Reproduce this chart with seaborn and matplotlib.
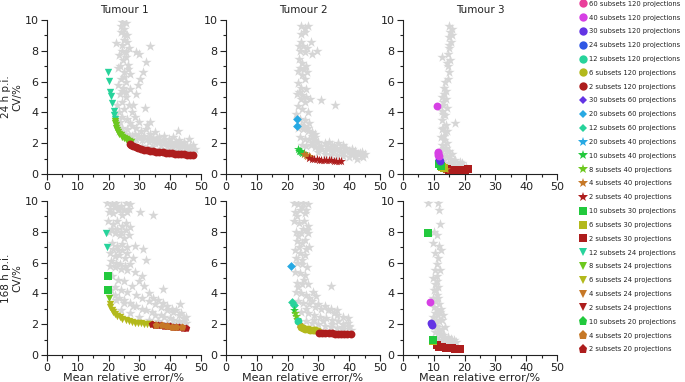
import matplotlib
matplotlib.use('Agg')
import matplotlib.pyplot as plt
import seaborn as sns
from matplotlib.lines import Line2D
from matplotlib.ticker import MultipleLocator

# ---- legend entries (subsets, projections) ----
legend_subsets = [60, 40, 30, 24, 12, 6, 2, 30, 20, 12, 20, 10, 8, 4, 2, 10, 6, 2, 12, 8, 6, 4, 2, 10, 4, 2]
legend_projections = [120, 120, 120, 120, 120, 120, 120, 60, 60, 60, 40, 40, 40, 40, 40,
                      30, 30, 30, 24, 24, 24, 24, 24, 20, 20, 20]

subset_colors = {60: '#ea3f9b', 40: '#d640e4', 30: '#6334e4', 24: '#2f57e4', 20: '#27a9e3',
                 12: '#27d39b', 10: '#22c93d', 8: '#6dc81f', 6: '#b3b91c', 4: '#c67827', 2: '#ad1d1d'}
proj_markers = {120: 'o', 60: 'D', 40: '*', 30: 's', 24: 'v', 20: 'p'}

tumours = ['Tumour 1', 'Tumour 2', 'Tumour 3']
rows = ['24 h p.i.', '168 h p.i.']

# ---- grey background clouds (all reconstructions) ----
t1_24_cloud_x = [24.5, 25.5, 25, 24, 26, 25, 24.2, 22.5, 26.5, 25.5, 23.5, 24.8, 26.2, 23.2, 25, 26.8, 24, 25.8,
                 23, 24.8, 27, 23.6, 25.8, 24.3, 22.8, 26.5, 25, 23.5, 27.5, 24.2, 26, 28.5,
                 28, 28.8, 29.5, 30.3, 31.3, 32.2, 29, 30, 33.5, 31.8, 33.5,
                 23, 24.5, 26, 27.5, 29, 30.5, 32, 33.5, 35, 36.5, 38, 39.5, 41, 42.5, 43, 44.5, 46, 47.5,
                 25, 27, 29, 31, 33, 35, 37, 39, 41, 43, 45, 47, 28, 31, 34, 37, 40, 43, 46, 38, 44, 48,
                 22.5, 23.8, 26.8, 30, 32.5, 34.5, 36, 40, 42, 45.5,
                 23.5, 24.5, 25.5, 26.5, 27.5, 28.5, 29.5, 30.5, 31.5, 32.5, 33.5, 34.5, 35.5, 36.5, 37.5,
                 38.5, 39.5, 40.5, 41.5, 42.5, 43.5, 44.5, 45.5, 46.5, 47.5,
                 24, 25, 26, 24.5, 25.5, 23.8, 26.2, 25, 24.4, 25.6]
t1_24_cloud_y = [9.9, 9.8, 9.4, 9.2, 9.0, 8.7, 8.4, 8.5, 8.2, 7.9, 7.7, 7.4, 7.1, 6.9, 6.6, 6.5, 6.2, 6.0,
                 5.8, 5.6, 5.5, 5.2, 5.0, 4.7, 4.5, 4.5, 4.2, 4.0, 4.0, 3.7, 3.6, 3.7,
                 4.5, 5.2, 5.8, 6.2, 6.6, 7.3, 7.9, 7.8, 8.3, 4.3, 3.4,
                 3.2, 3.0, 2.9, 3.1, 3.0, 2.8, 2.9, 2.6, 2.7, 2.4, 2.5, 2.3, 2.4, 2.8, 2.2, 2.1, 2.3, 1.9,
                 2.5, 2.4, 2.3, 2.2, 2.1, 2.0, 1.9, 1.85, 1.75, 1.7, 1.6, 1.55, 2.0, 1.85, 1.75, 1.65, 1.55,
                 1.5, 1.45, 2.1, 1.9, 1.6,
                 3.6, 3.4, 3.3, 3.4, 3.2, 2.3, 2.2, 2.0, 2.1, 1.8,
                 2.8, 2.7, 2.6, 2.5, 2.45, 2.6, 2.5, 2.4, 2.45, 2.3, 2.25, 2.35, 2.2, 2.1, 2.2,
                 2.0, 2.05, 1.95, 2.0, 1.85, 1.95, 1.8, 1.7, 1.85, 1.45,
                 9.6, 9.1, 8.6, 8.0, 7.6, 7.0, 6.8, 6.3, 5.4, 5.3]

t2_24_cloud_x = [24.5, 25.5, 26.5, 24.2, 25.8, 27.5, 24.5, 29.5, 24, 25.5, 27.8, 23.6, 24.8, 26, 23.4, 24.6,
                 25.8, 23.5, 24.5, 26, 23.2, 24.4, 25.5, 23.4, 24.8, 26.5, 22.8, 24, 25.5, 27, 23.5, 25,
                 26.5, 28, 24, 25.5, 27, 28.5, 30, 29, 31, 35.5, 24.8, 26, 27.5, 29, 31, 32, 33, 34.5, 35,
                 36.5, 38, 37, 39, 40.5, 42, 43.5, 44.5, 41, 30, 32, 34, 36, 38, 40, 42.5, 44,
                 23.8, 25, 26.2, 24, 25.2, 26.4, 23.6, 24.8, 26, 27.2, 24.2, 25.4, 26.6, 27.8, 29, 30, 31,
                 32, 33, 34, 35, 36, 37, 38, 39, 40, 41, 42, 43, 44, 45, 28, 33.5, 38.5]
t2_24_cloud_y = [9.6, 9.5, 9.6, 9.1, 9.2, 8.6, 8.6, 8.0, 8.0, 7.9, 7.8, 7.5, 7.2, 7.0, 6.7, 6.4, 6.2, 5.9,
                 5.6, 5.5, 5.2, 4.9, 4.7, 4.4, 4.2, 4.0, 3.9, 3.6, 3.5, 3.3, 3.0, 2.9, 2.8, 2.7, 2.4, 2.3,
                 2.3, 2.2, 2.1, 2.6, 4.8, 4.5, 1.9, 1.8, 1.9, 1.75, 1.8, 2.0, 1.6, 1.9, 1.5, 2.0, 1.9, 1.4,
                 1.5, 1.3, 1.2, 1.35, 1.1, 1.6, 1.4, 1.3, 1.25, 1.2, 1.15, 1.1, 1.0, 1.4,
                 8.3, 8.3, 8.2, 6.9, 6.8, 6.6, 5.3, 5.1, 5.0, 4.9, 3.2, 3.1, 3.0, 2.5, 2.4, 1.7, 1.6,
                 1.5, 1.75, 1.55, 1.8, 1.6, 1.7, 1.4, 1.7, 1.5, 1.4, 1.5, 1.3, 1.2, 1.3, 2.0, 2.1, 1.6]

t3_24_cloud_x = [14.8, 15.8, 16, 15.5, 15, 14.6, 12.5, 15.2, 14.6, 15, 14.5, 13.2, 14, 12.8, 13.8, 13, 14.2,
                 12.5, 13.5, 16.8, 12.8, 13.8, 12.6, 13.6, 12.4, 13.4, 14.4, 12.6, 13.6, 14.8, 12.8, 14,
                 15.5, 13.2, 16.5, 14.5, 18, 19.5, 20.5, 17, 12.5,
                 15.2, 14.9, 14.8, 14.2, 13.6, 13.3, 13.1, 12.9, 13.1, 13.2, 13.0, 14.0, 15.0, 16.0, 17.0,
                 18.5, 19.0, 15.5, 16.0, 14.2]
t3_24_cloud_y = [9.6, 9.4, 9.0, 8.6, 8.2, 7.8, 7.6, 7.4, 7.0, 6.6, 6.2, 5.6, 5.4, 5.0, 4.9, 4.5, 4.3, 4.1,
                 3.8, 3.3, 3.5, 3.2, 2.9, 2.7, 2.4, 2.2, 2.0, 1.9, 1.6, 1.5, 1.3, 1.2, 1.0, 0.9, 0.8, 0.7,
                 0.6, 0.5, 0.45, 0.5, 1.1,
                 9.2, 8.9, 8.4, 7.2, 6.0, 5.2, 4.7, 3.9, 3.0, 2.5, 1.6, 1.7, 1.2, 1.3, 0.9,
                 0.8, 0.7, 0.55, 0.6, 2.8]

t1_168_cloud_x = [19.5, 21, 22.5, 24, 25.5, 27, 20, 21.5, 23, 24.5, 26, 30.2, 34.5, 19.8, 21.3, 22.8, 24.3,
                  25.8, 27, 20, 22, 23.6, 25, 26.5, 21, 22.8, 24.2, 26, 28.6, 31.3, 20.5, 22, 23.5, 25.2,
                  28, 32, 20.5, 22.2, 24, 26, 21, 23, 25, 30.7, 27.5, 22, 24, 26, 29, 31, 33, 35, 37.8, 37,
                  39, 41, 43.2, 43, 45, 22.5, 25, 28, 31, 34, 37, 40, 43, 45, 27, 30, 33, 36, 39, 42, 24, 20.8,
                  20.5, 22, 23.5, 25, 26.5, 21.2, 22.6, 24, 25.5, 21.5, 23, 24.5, 26, 20.8, 22.3, 23.8, 25.3,
                  26.8, 28.5, 30, 31.5, 33, 34.5, 36, 37.5, 39, 40.5, 42, 43.5, 44.5, 22, 23.5, 25, 27, 29,
                  32, 35, 38, 41, 44]
t1_168_cloud_y = [9.9, 9.8, 9.9, 9.7, 9.9, 9.8, 9.3, 9.2, 9.4, 9.1, 9.3, 9.3, 9.1, 8.7, 8.5, 8.7, 8.4, 8.6,
                  8.3, 8.0, 7.9, 7.8, 7.6, 7.8, 7.3, 7.1, 7.2, 7.0, 7.1, 6.9, 6.6, 6.4, 6.5, 6.3, 6.3, 6.2,
                  5.8, 5.7, 5.6, 5.5, 5.1, 4.9, 4.8, 5.1, 4.5, 4.4, 4.2, 4.1, 3.9, 3.7, 3.5, 3.3, 4.3, 3.1,
                  2.9, 2.8, 3.3, 2.6, 2.5, 3.6, 3.4, 3.2, 3.0, 2.8, 2.6, 2.4, 2.2, 2.1, 2.7, 2.5, 2.3, 2.2,
                  2.1, 2.0, 2.9, 4.2,
                  9.5, 9.6, 9.5, 9.4, 9.5, 8.2, 8.2, 8.0, 8.1, 6.9, 6.8, 6.8, 6.6, 6.1, 6.0, 5.9, 5.8,
                  5.9, 5.4, 4.8, 4.5, 4.0, 3.7, 3.6, 3.4, 3.2, 3.0, 2.9, 2.7, 2.4, 3.9, 3.7, 3.6, 3.4, 3.2,
                  2.9, 2.6, 2.5, 2.3, 2.2]

t2_168_cloud_x = [22, 23.5, 25, 26.5, 22.5, 24, 25.5, 22.2, 23.8, 25.2, 26.5, 22.8, 24.3, 26.5, 23, 24.6,
                  27.1, 22.5, 24, 25.5, 23.2, 24.8, 22.5, 24, 25.5, 23, 24.6, 26.5, 22.8, 24.2, 26, 28.4,
                  29.3, 34.1, 23.5, 25, 27, 29, 31, 33, 35, 36, 24.5, 26.5, 28.5, 30.5, 32.5, 34.5, 36.5,
                  39.5, 38, 40, 26, 28, 30, 32, 34, 36, 38, 40.5,
                  24.8, 26, 23, 25, 26.2, 23.5, 25.8, 23.8, 26, 22.8, 24.6, 26.2, 25.2, 23.4, 27, 28, 30,
                  32, 34, 36, 38, 39.5, 26, 28.5, 31.5, 34.5, 37.5, 40]
t2_168_cloud_y = [9.9, 9.8, 9.9, 9.8, 9.3, 9.4, 9.2, 8.7, 8.6, 8.7, 8.4, 8.0, 7.9, 7.9, 7.4, 7.3, 7.0, 6.8,
                  6.6, 6.5, 6.0, 5.9, 5.4, 5.3, 5.2, 4.7, 4.6, 4.6, 4.1, 4.0, 3.9, 4.1, 3.8, 4.5, 3.5, 3.4,
                  3.3, 3.1, 3.0, 2.9, 2.7, 2.9, 2.8, 2.7, 2.6, 2.5, 2.4, 2.3, 2.2, 2.4, 2.0, 1.9, 2.2, 2.1,
                  2.0, 1.9, 1.8, 1.75, 1.7, 1.6,
                  9.6, 9.4, 9.0, 8.2, 8.1, 7.7, 7.5, 7.0, 6.9, 6.3, 6.2, 5.7, 4.9, 4.4, 3.7, 3.5, 3.3,
                  3.2, 3.0, 2.6, 2.5, 2.1, 3.0, 2.3, 2.2, 2.0, 1.8, 1.8]

t3_168_cloud_x = [8.2, 11.4, 11.7, 11.9, 9.8, 12.2, 11.4, 11.2, 11.9, 9.8, 11, 10.5, 11.5, 10, 11, 9.6, 10.6,
                  11.6, 10, 11, 12, 13, 9.8, 10.8, 11.8, 10.2, 11.2, 12.5, 10.5, 11.5, 13, 14.5, 11, 12.5,
                  14, 16, 17.3, 12, 15,
                  10.2, 11.2, 10.5, 11.6, 10.3, 11.1, 10.8, 11.5, 12.4, 10.4, 11.4, 12.5, 13.5, 10.8, 11.6,
                  12.2, 13.2, 14.5, 15.5, 16.5]
t3_168_cloud_y = [9.9, 9.9, 9.4, 8.5, 7.3, 6.8, 6.3, 5.9, 5.5, 5.0, 5.1, 4.6, 4.4, 4.2, 3.9, 3.7, 3.5, 3.3,
                  3.1, 2.9, 2.8, 2.6, 2.5, 2.3, 2.2, 1.9, 1.8, 1.7, 1.5, 1.4, 1.3, 1.2, 1.1, 1.0, 0.95, 0.9,
                  0.86, 0.8, 0.75,
                  8.0, 7.8, 6.6, 7.1, 5.5, 4.8, 4.2, 3.7, 3.0, 2.7, 2.6, 2.3, 1.8, 1.9, 1.6,
                  1.35, 1.1, 1.0, 1.05, 0.95]

# ---- optimal reconstructions, Tumour 1, 24 h ----
t1_24_s12p24_x = [19.8, 20.0, 20.3, 20.8, 21.2, 21.6, 21.8, 22.0]
t1_24_s12p24_y = [6.6, 6.05, 5.35, 5.05, 4.6, 4.1, 3.85, 3.6]
t1_24_s8p24_x = [22.0, 22.1, 22.3, 22.5, 22.8, 23.1, 23.5, 23.9, 24.4, 24.9, 25.5, 26.1, 26.7, 27.3]
t1_24_s8p24_y = [3.45, 3.3, 3.15, 3.0, 2.87, 2.75, 2.62, 2.52, 2.42, 2.33, 2.25, 2.18, 2.12, 2.07]
t1_24_s2p120_x = [26.8, 27.3, 28, 28.8, 29.6, 30.5, 31.5, 32.5, 33.5, 34.5, 35.5, 36.5, 37.5, 38.5, 39.5,
                  40.5, 41.5, 42.5, 43.5, 44.5, 45.5, 46.5, 47.5]
t1_24_s2p120_y = [1.98, 1.9, 1.82, 1.75, 1.69, 1.64, 1.59, 1.55, 1.51, 1.48, 1.45, 1.43, 1.41, 1.39, 1.37,
                  1.35, 1.33, 1.31, 1.3, 1.28, 1.26, 1.24, 1.22]

# ---- Tumour 2, 24 h ----
t2_24_s20p60_x = [23.2, 23.2]
t2_24_s20p60_y = [3.6, 3.1]
t2_24_s10p40_x = [23.4, 23.7, 24.0, 24.4, 24.8, 25.2]
t2_24_s10p40_y = [1.62, 1.52, 1.47, 1.42, 1.38, 1.34]
t2_24_s4p40_x = [25.4, 25.9, 26.4, 26.9, 27.3]
t2_24_s4p40_y = [1.3, 1.25, 1.2, 1.15, 1.1]
t2_24_s2p40_x = [27.0, 27.8, 28.6, 29.4, 30.2, 31.0, 31.8, 32.6, 33.4, 34.2, 35.0, 35.8, 36.6, 37.4]
t2_24_s2p40_y = [1.05, 1.0, 0.98, 0.96, 0.94, 0.92, 0.91, 0.9, 0.89, 0.88, 0.87, 0.86, 0.86, 0.85]

# ---- Tumour 3, 24 h ----
t3_24_s40p120_x = [11.1, 11.3, 11.4, 11.5, 11.6]
t3_24_s40p120_y = [4.4, 1.45, 1.35, 1.25, 1.15]
t3_24_s30p120_x = [11.8, 11.9]
t3_24_s30p120_y = [0.95, 0.85]
t3_24_s10p30_x = [11.8, 12.2]
t3_24_s10p30_y = [0.65, 0.55]
t3_24_s6p30_x = [12.6, 13.2]
t3_24_s6p30_y = [0.45, 0.4]
t3_24_s4p40_x = [13.5, 14.0]
t3_24_s4p40_y = [0.35, 0.32]
t3_24_s2p30_x = [14.2, 15, 16, 17, 18, 19, 20, 21]
t3_24_s2p30_y = [0.3, 0.28, 0.27, 0.27, 0.26, 0.26, 0.27, 0.3]

# ---- Tumour 1, 168 h ----
t1_168_s12p24_x = [19.2, 19.4]
t1_168_s12p24_y = [7.9, 7.03]
t1_168_s10p30_x = [19.7, 19.9]
t1_168_s10p30_y = [5.13, 4.2]
t1_168_s8p24_x = [20.1]
t1_168_s8p24_y = [3.68]
t1_168_s6p24_x = [20.3, 20.6, 21.0, 21.5, 22.1, 22.8, 23.6, 24.5, 25.5, 26.5, 27.5, 28.5, 29.5, 30.5, 31.5,
                  32.5, 33.5, 34.5]
t1_168_s6p24_y = [3.3, 3.12, 2.95, 2.8, 2.66, 2.54, 2.44, 2.35, 2.27, 2.2, 2.15, 2.11, 2.08, 2.05, 2.03,
                  2.01, 1.99, 1.97]
t1_168_s2p20_x = [34, 35, 36, 37, 38, 39, 40, 41, 42, 43, 44, 45]
t1_168_s2p20_y = [2.0, 1.97, 1.95, 1.93, 1.9, 1.88, 1.86, 1.84, 1.82, 1.8, 1.78, 1.76]
t1_168_s4p20_x = [35.5, 37.2, 39, 40.5, 42, 43.7]
t1_168_s4p20_y = [1.98, 1.94, 1.88, 1.84, 1.82, 1.8]

# ---- Tumour 2, 168 h ----
t2_168_s20p60_x = [21.2]
t2_168_s20p60_y = [5.8]
t2_168_s12p60_x = [21.5, 22.0]
t2_168_s12p60_y = [3.42, 3.25]
t2_168_s10p40_x = [22.2]
t2_168_s10p40_y = [2.92]
t2_168_s8p40_x = [22.4, 22.7, 23.0]
t2_168_s8p40_y = [2.75, 2.55, 2.35]
t2_168_s4p40_x = [23.8, 24.3]
t2_168_s4p40_y = [2.0, 1.9]
t2_168_s12p120_x = [23.3]
t2_168_s12p120_y = [2.2]
t2_168_s6p120_x = [24.4, 25, 25.8, 26.6, 27.4, 28.2, 29, 29.8]
t2_168_s6p120_y = [1.84, 1.78, 1.72, 1.68, 1.65, 1.62, 1.6, 1.58]
t2_168_s2p120_x = [30.3, 31.3, 32.3, 33.3, 34.3, 35.3, 36.3, 37.3, 38.3, 39.3, 40.5]
t2_168_s2p120_y = [1.45, 1.43, 1.42, 1.41, 1.4, 1.39, 1.38, 1.38, 1.37, 1.36, 1.36]

# ---- Tumour 3, 168 h ----
t3_168_s10p30_x = [8.2, 9.6]
t3_168_s10p30_y = [7.94, 0.97]
t3_168_s40p120_x = [8.7]
t3_168_s40p120_y = [3.42]
t3_168_s30p120_x = [9.25, 9.35]
t3_168_s30p120_y = [2.06, 1.95]
t3_168_s6p30_x = [9.9]
t3_168_s6p30_y = [0.9]
t3_168_s2p30_x = [10.9, 11.8, 12.8, 13.8, 14.8, 15.8, 16.8, 17.8, 18.4]
t3_168_s2p30_y = [0.62, 0.55, 0.5, 0.47, 0.45, 0.43, 0.42, 0.4, 0.4]

clouds = {
    (0, 0): (t1_24_cloud_x, t1_24_cloud_y), (0, 1): (t2_24_cloud_x, t2_24_cloud_y),
    (0, 2): (t3_24_cloud_x, t3_24_cloud_y), (1, 0): (t1_168_cloud_x, t1_168_cloud_y),
    (1, 1): (t2_168_cloud_x, t2_168_cloud_y), (1, 2): (t3_168_cloud_x, t3_168_cloud_y),
}
series = {
    (0, 0): [(12, 24, t1_24_s12p24_x, t1_24_s12p24_y), (8, 24, t1_24_s8p24_x, t1_24_s8p24_y),
             (2, 120, t1_24_s2p120_x, t1_24_s2p120_y)],
    (0, 1): [(20, 60, t2_24_s20p60_x, t2_24_s20p60_y), (10, 40, t2_24_s10p40_x, t2_24_s10p40_y),
             (4, 40, t2_24_s4p40_x, t2_24_s4p40_y), (2, 40, t2_24_s2p40_x, t2_24_s2p40_y)],
    (0, 2): [(2, 30, t3_24_s2p30_x, t3_24_s2p30_y), (4, 40, t3_24_s4p40_x, t3_24_s4p40_y),
             (6, 30, t3_24_s6p30_x, t3_24_s6p30_y), (10, 30, t3_24_s10p30_x, t3_24_s10p30_y),
             (30, 120, t3_24_s30p120_x, t3_24_s30p120_y), (40, 120, t3_24_s40p120_x, t3_24_s40p120_y)],
    (1, 0): [(12, 24, t1_168_s12p24_x, t1_168_s12p24_y), (10, 30, t1_168_s10p30_x, t1_168_s10p30_y),
             (8, 24, t1_168_s8p24_x, t1_168_s8p24_y), (6, 24, t1_168_s6p24_x, t1_168_s6p24_y),
             (2, 20, t1_168_s2p20_x, t1_168_s2p20_y), (4, 20, t1_168_s4p20_x, t1_168_s4p20_y)],
    (1, 1): [(20, 60, t2_168_s20p60_x, t2_168_s20p60_y), (12, 60, t2_168_s12p60_x, t2_168_s12p60_y),
             (10, 40, t2_168_s10p40_x, t2_168_s10p40_y), (8, 40, t2_168_s8p40_x, t2_168_s8p40_y),
             (4, 40, t2_168_s4p40_x, t2_168_s4p40_y), (12, 120, t2_168_s12p120_x, t2_168_s12p120_y),
             (6, 120, t2_168_s6p120_x, t2_168_s6p120_y), (2, 120, t2_168_s2p120_x, t2_168_s2p120_y)],
    (1, 2): [(2, 30, t3_168_s2p30_x, t3_168_s2p30_y), (6, 30, t3_168_s6p30_x, t3_168_s6p30_y),
             (10, 30, t3_168_s10p30_x, t3_168_s10p30_y), (30, 120, t3_168_s30p120_x, t3_168_s30p120_y),
             (40, 120, t3_168_s40p120_x, t3_168_s40p120_y)],
}

sns.set_style('ticks')
plt.rcParams['font.family'] = ['DejaVu Sans']

fig = plt.figure(figsize=(6.85, 3.82), dpi=100)
W, H = 685, 382
lefts = [47, 226, 403]
tops = [20, 201]
aw, ah = 154, 154

for r in range(2):
    for c in range(3):
        ax = fig.add_axes([lefts[c] / W, 1 - (tops[r] + ah) / H, aw / W, ah / H])
        gx, gy = clouds[(r, c)]
        sns.scatterplot(x=gx, y=gy, marker='*', s=60, color='#d6d6d6', linewidth=0, ax=ax, zorder=2)
        for sub, proj, xs, ys in series[(r, c)]:
            m = proj_markers[proj]
            size = {'o': 32, 'D': 20, '*': 45, 's': 30, 'v': 28, 'p': 32}[m]
            sns.scatterplot(x=xs, y=ys, marker=m, s=size, color=subset_colors[sub],
                            linewidth=0, ax=ax, zorder=3)
        ax.set_xlim(0, 50)
        ax.set_ylim(0, 10)
        ax.xaxis.set_major_locator(MultipleLocator(10))
        ax.xaxis.set_minor_locator(MultipleLocator(5))
        ax.yaxis.set_major_locator(MultipleLocator(2))
        ax.yaxis.set_minor_locator(MultipleLocator(1))
        ax.tick_params(which='major', direction='out', length=4, width=0.8, labelsize=8,
                       colors='#222222', pad=2)
        ax.tick_params(which='minor', direction='out', length=2.5, width=0.8, colors='#222222')
        sns.despine(ax=ax)
        for s in ['left', 'bottom']:
            ax.spines[s].set_linewidth(0.8)
            ax.spines[s].set_color('#222222')
        if r == 0:
            ax.set_title(tumours[c], fontsize=7.5, pad=5, color='#222222')
        if r == 1:
            ax.set_xlabel('Mean relative error/%', fontsize=8, labelpad=0, color='#222222')
        if c == 0:
            ax.set_ylabel(rows[r] + '\nCV/%', fontsize=7.5, color='#222222', linespacing=1.15)
            ax.yaxis.set_label_coords(-0.16, 0.5)

handles = [Line2D([0], [0], marker=proj_markers[p], linestyle='', color=subset_colors[s],
                  markersize={'o': 6, 'D': 4.5, '*': 7, 's': 6, 'v': 6, 'p': 6.5}[proj_markers[p]],
                  markeredgewidth=0)
           for s, p in zip(legend_subsets, legend_projections)]
labels = [f'{s} subsets {p} projections' for s, p in zip(legend_subsets, legend_projections)]
fig.legend(handles, labels, loc='upper left', bbox_to_anchor=(578 / W, 1.0), frameon=False,
           fontsize=4.9, labelspacing=1.15, handletextpad=0.3, handlelength=1.2,
           borderaxespad=0, borderpad=0.1, labelcolor='#222222')

fig.savefig('out.png', dpi=100)
